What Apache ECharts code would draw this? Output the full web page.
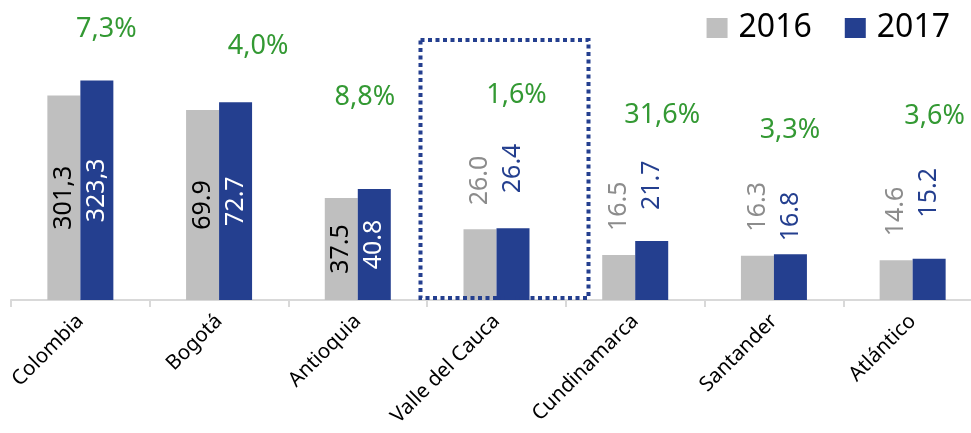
<!DOCTYPE html>
<html><head><meta charset="utf-8">
<script src="https://cdn.jsdelivr.net/npm/echarts@6/dist/echarts.min.js"></script>
<style>html,body{margin:0;padding:0;overflow:hidden;background:#fff;width:971px;height:433px}#c{width:982px;height:433px}</style>
</head><body><div id="c"></div>
<script>
// ---- data ----
var categories = ['Colombia', 'Bogotá', 'Antioquia', 'Valle del Cauca', 'Cundinamarca', 'Santander', 'Atlántico'];
var values2016 = [301.3, 69.9, 37.5, 26.0, 16.5, 16.3, 14.6];
var values2017 = [323.3, 72.7, 40.8, 26.4, 21.7, 16.8, 15.2];
var growthLabels = ['7,3%', '4,0%', '8,8%', '1,6%', '31,6%', '3,3%', '3,6%'];
var nationalIndex = 0; // Colombia drawn on its own (secondary) scale

// ---- styles ----
var GRAY = '#BFBFBF', BLUE = '#243F8F', GREEN = '#008000';
var FONT = 'Noto Sans';
var label2016Distance = [0, 0, 0, 24, 24, 24, 24];
var label2017Distance = [0, 0, 0, 35, 31, 13, 41];
var insideIdx = [0, 1, 2];
var growthOffsets = [[26, -51], [39, -56], [7, -92], [20, -133], [27, -126], [16, -124], [22, -142]];

function fmt(v, i) { var s = v.toFixed(1); return i === nationalIndex ? s.replace('.', ',') : s; }

function barData(vals, national, year) {
  return vals.map(function (v, i) {
    if ((i === nationalIndex) !== national) return '-';
    var inside = insideIdx.indexOf(i) >= 0;
    var lbl;
    if (inside) {
      lbl = { show: true, position: 'inside', rotate: 90, align: 'center', verticalAlign: 'middle',
        color: year === 2016 ? '#000' : '#fff', fontSize: 25, fontFamily: FONT,
        formatter: fmt(v, i) };
    } else {
      lbl = { show: true, position: 'top', rotate: 90, align: 'left', verticalAlign: 'middle',
        distance: year === 2016 ? label2016Distance[i] : label2017Distance[i],
        color: year === 2016 ? '#8C8C8C' : BLUE, fontSize: 25, fontFamily: FONT,
        formatter: fmt(v, i) };
    }
    return { value: v, label: lbl };
  });
}
function growthData(national) {
  return values2017.map(function (v, i) {
    if ((i === nationalIndex) !== national) return '-';
    return { value: v, label: { show: true, position: 'inside', offset: growthOffsets[i],
      formatter: growthLabels[i], color: GREEN, fontSize: 27, fontFamily: FONT } };
  });
}

var chart = echarts.init(document.getElementById('c'), null, { renderer: 'canvas' });
var xBase = {
  type: 'category', data: categories,
  axisLine: { lineStyle: { color: '#D9D9D9', width: 2 } },
  axisTick: { show: true, length: 7, lineStyle: { color: '#D9D9D9', width: 2 } },
  axisLabel: { rotate: 45, margin: 18, color: '#000', fontSize: 20.5, fontFamily: FONT, interval: 0 }
};
var option = {
  animation: false,
  backgroundColor: '#fff',
  grid: { left: 11, right: 0, top: 0, bottom: 133, containLabel: false },
  legend: {
    data: ['2016', '2017'], right: 27, top: 7, itemWidth: 21, itemHeight: 20, itemGap: 33,
    textStyle: { fontSize: 32, fontFamily: FONT, color: '#000', padding: [0, 0, 0, 6] },
    icon: 'rect', selectedMode: false
  },
  xAxis: [xBase, Object.assign({}, xBase, { show: false })],
  yAxis: [
    { type: 'value', min: 0, max: 110.3, show: false, splitLine: { show: false } },
    { type: 'value', min: 0, max: 442, show: false, splitLine: { show: false } }
  ],
  series: [
    { name: '2016', type: 'bar', xAxisIndex: 0, yAxisIndex: 0, barWidth: 33, barGap: '0%', itemStyle: { color: GRAY }, data: barData(values2016, false, 2016) },
    { name: '2017', type: 'bar', xAxisIndex: 0, yAxisIndex: 0, barWidth: 33, barGap: '0%', itemStyle: { color: BLUE }, data: barData(values2017, false, 2017) },
    { name: '2016', type: 'bar', xAxisIndex: 1, yAxisIndex: 1, barWidth: 33, barGap: '0%', itemStyle: { color: GRAY }, data: barData(values2016, true, 2016) },
    { name: '2017', type: 'bar', xAxisIndex: 1, yAxisIndex: 1, barWidth: 33, barGap: '0%', itemStyle: { color: BLUE }, data: barData(values2017, true, 2017) },
    { name: 'growth', type: 'scatter', xAxisIndex: 0, yAxisIndex: 0, symbolSize: 0, silent: true, data: growthData(false), z: 5 },
    { name: 'growthN', type: 'scatter', xAxisIndex: 1, yAxisIndex: 1, symbolSize: 0, silent: true, data: growthData(true), z: 5 }
  ]
};
chart.setOption(option);

// dotted highlight box around Valle del Cauca
var cx = chart.convertToPixel({ xAxisIndex: 0 }, 'Valle del Cauca');
var base = chart.convertToPixel({ yAxisIndex: 0 }, 0);
chart.setOption({
  graphic: [{
    type: 'rect', z: 10,
    shape: { x: cx - 76, y: base - 260, width: 168, height: 258 },
    style: { fill: 'none', stroke: BLUE, lineWidth: 4, lineDash: [4, 3.5] }
  }]
});
</script></body></html>
